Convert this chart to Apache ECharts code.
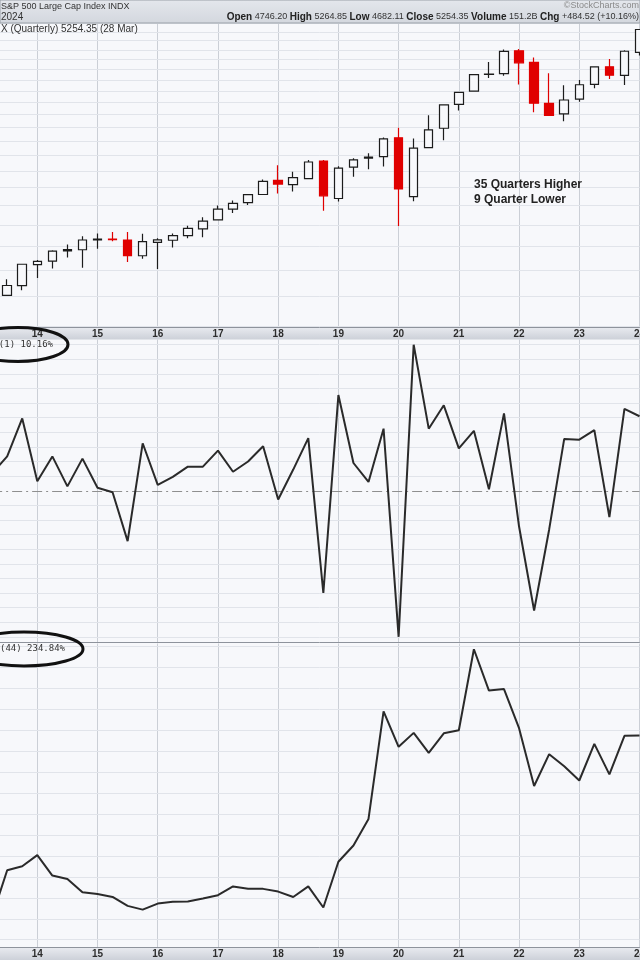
<!DOCTYPE html>
<html>
<head>
<meta charset="utf-8">
<script src="https://cdn.jsdelivr.net/npm/echarts@6/dist/echarts.min.js"></script>
<style>
html,body{margin:0;padding:0;background:#f7f8fb;}
#chart{width:640px;height:960px;}
</style>
</head>
<body>
<div id="chart"></div>
<script>
// ---- data (S&P 500, quarterly) ----
const quarters = ['2013Q2','2013Q3','2013Q4',
  '2014Q1','2014Q2','2014Q3','2014Q4','2015Q1','2015Q2','2015Q3','2015Q4',
  '2016Q1','2016Q2','2016Q3','2016Q4','2017Q1','2017Q2','2017Q3','2017Q4',
  '2018Q1','2018Q2','2018Q3','2018Q4','2019Q1','2019Q2','2019Q3','2019Q4',
  '2020Q1','2020Q2','2020Q3','2020Q4','2021Q1','2021Q2','2021Q3','2021Q4',
  '2022Q1','2022Q2','2022Q3','2022Q4','2023Q1','2023Q2','2023Q3','2023Q4','2024Q1'];
const openP = [1562.17,1609.78,1681.05,1845.86,1873.96,1962.29,1971.44,2058.90,2067.63,2058.83,1919.65,
  2038.20,2056.62,2099.34,2164.33,2251.57,2362.34,2431.39,2521.20,2683.73,2633.45,2704.95,2926.29,
  2476.96,2848.63,2964.66,2983.69,3244.67,2498.08,3105.92,3385.87,3764.61,3992.78,4300.73,4317.16,
  4778.14,4540.32,3781.00,3609.78,3853.29,4116.02,4450.48,4284.52,4746.20];
const highP = [1687.18,1729.86,1849.44,1883.97,1968.17,2019.26,2093.55,2119.59,2134.72,2132.82,2116.48,
  2075.07,2120.55,2193.81,2277.53,2400.98,2453.82,2519.44,2694.97,2872.87,2791.47,2940.91,2939.86,
  2860.31,2964.15,3027.98,3247.93,3393.52,3233.13,3588.11,3760.20,3983.87,4302.43,4545.85,4808.93,
  4818.62,4637.30,4325.28,4100.96,4195.44,4448.47,4607.07,4793.30,5264.85];
const lowP = [1536.03,1604.57,1646.47,1737.92,1814.36,1904.78,1820.66,1980.90,2048.38,1867.01,1893.70,
  1810.10,1991.68,2074.02,2083.79,2245.13,2322.25,2405.70,2520.40,2532.69,2553.80,2698.95,2346.58,
  2443.96,2728.81,2822.12,2855.94,2191.86,2447.49,3101.17,3209.45,3662.71,3992.78,4233.13,4278.94,
  4114.65,3636.87,3584.13,3491.58,3808.86,4047.50,4216.45,4103.78,4682.11];
const closeP = [1606.28,1681.55,1848.36,1872.34,1960.23,1972.29,2058.90,2067.89,2063.11,1920.03,2043.94,
  2059.74,2098.86,2168.27,2238.83,2362.72,2423.41,2519.36,2673.61,2640.87,2718.37,2913.98,2506.85,
  2834.40,2941.76,2976.74,3230.78,2584.59,3100.29,3363.00,3756.07,3972.89,4297.50,4307.54,4766.18,
  4530.41,3785.38,3585.62,3839.50,4109.31,4450.38,4288.05,4769.83,5254.35];
const roc1 = [2.4,4.7,9.9,1.3,4.7,0.6,4.4,0.4,-0.2,-6.9,6.5,0.8,1.9,3.3,3.3,5.5,2.6,4.0,6.1,-1.2,2.9,7.2,
  -14.0,13.1,3.8,1.2,8.5,-20.0,20.0,8.5,11.7,5.8,8.2,0.2,10.6,-4.9,-16.4,-5.3,7.1,7.0,8.3,-3.6,11.2,10.2];
const roc44 = [62.3,106.3,110.1,120.7,101.2,98.0,85.2,83.6,80.8,72.3,68.7,74.5,76.2,76.5,79.4,82.5,90.8,
  88.6,88.5,85.9,80.8,90.9,70.7,114.3,129.8,155.2,257.7,223.9,237.2,218.1,236.8,239.7,316.9,277.5,279.0,
  241.7,186.6,216.9,205.3,191.8,226.7,197.6,234.4,234.8];
const priceGrid = [1400,1600,1800,2000,2200,2400,2600,2800,3000,3200,3400,3600,3800,4000,4200,4400,4600,4800,5000,5200,5400];
const roc1Grid = [-20,-18,-16,-14,-12,-10,-8,-6,-4,-2,2,4,6,8,10,12,14,16,18,20];
const roc44Grid = [40,60,80,100,120,140,160,180,200,220,240,260,280,300,320];
const annotation = ['35 Quarters Higher','9 Quarter Lower'];

// ---- chart ----
const candles = quarters.map((q,i)=>[openP[i],closeP[i],lowP[i],highP[i]]);
const isQ1 = (idx, val) => String(val).slice(4) === 'Q1';
const yearLabel = (val) => String(val).slice(2,4);
const FONT = 'Liberation Sans, Arial, sans-serif';

function xAx(gi, showLabel){
  return {
    type:'category', gridIndex:gi, data:quarters, boundaryGap:false,
    axisLine:{show:true, onZero:false, lineStyle:{color:'#8e939c', width:1}},
    axisTick:{show:false},
    axisLabel:{show:showLabel, interval:isQ1, formatter:yearLabel, fontSize:10, fontWeight:'bold',
      color:'#2d2d2d', margin:2, fontFamily:FONT, hideOverlap:false},
    splitLine:{show:true, interval:isQ1, lineStyle:{color:'#cbcfd6', width:1}}
  };
}
function gridMarks(vals){
  return {silent:true, symbol:'none', z:1, animation:false, label:{show:false},
    lineStyle:{color:'#e1e4ea', width:1, type:'solid'},
    data: vals.map(v=>({yAxis:v}))};
}
const GL = -7.87, GR = 0.5;

const option = {
  animation:false,
  backgroundColor:'#f7f8fb',
  grid:[
    {left:GL, right:GR, top:23, height:304, outerBoundsMode:'none', containLabel:false},
    {left:GL, right:GR, top:339.5, height:302.5, outerBoundsMode:'none', containLabel:false},
    {left:GL, right:GR, top:643.5, height:303.8, outerBoundsMode:'none', containLabel:false}
  ],
  xAxis:[xAx(0,true), xAx(1,false), xAx(2,true)],
  yAxis:[
    {type:'log', logBase:10, gridIndex:0, min:1398, max:5409, show:false},
    {type:'value', gridIndex:1, min:-20.71, max:20.71, show:false},
    {type:'value', gridIndex:2, min:32.8, max:322.4, show:false}
  ],
  series:[
    {type:'line', xAxisIndex:0, yAxisIndex:0, data:[], z:1, markLine:gridMarks(priceGrid)},
    {type:'candlestick', xAxisIndex:0, yAxisIndex:0, data:candles, barWidth:9, z:3,
      itemStyle:{color:'#f7f8fb', color0:'#e00000', borderColor:'#1c1c1c', borderColor0:'#e00000', borderWidth:1.2}},
    {type:'line', xAxisIndex:1, yAxisIndex:1, data:roc1, symbol:'none', z:3, clip:false,
      lineStyle:{color:'#2a2a2a', width:2},
      markLine:{silent:true, symbol:'none', z:2, label:{show:false}, animation:false,
        lineStyle:{color:'#8f8f8f', width:1, type:[10,4,2,4]}, data:[{yAxis:0}]}},
    {type:'line', xAxisIndex:1, yAxisIndex:1, data:[], z:1, markLine:gridMarks(roc1Grid)},
    {type:'line', xAxisIndex:2, yAxisIndex:2, data:roc44, symbol:'none', z:3, clip:false,
      lineStyle:{color:'#2a2a2a', width:2}},
    {type:'line', xAxisIndex:2, yAxisIndex:2, data:[], z:1, markLine:gridMarks(roc44Grid)}
  ],
  graphic:[
    // header band
    {type:'rect', z:10, shape:{x:0,y:0,width:640,height:23},
      style:{fill:new echarts.graphic.LinearGradient(0,0,0,1,[{offset:0,color:'#e4e7ec'},{offset:1,color:'#d3d7de'}]),
        stroke:'#9aa0a8', lineWidth:1}},
    {type:'text', z:11, style:{x:1, y:7, text:'S&P 500 Large Cap Index INDX', font:'9px '+FONT, fill:'#333', verticalAlign:'middle'}},
    {type:'text', z:11, style:{x:1, y:17, text:'2024', font:'10px '+FONT, fill:'#333', verticalAlign:'middle'}},
    {type:'text', z:11, style:{x:639, y:6, text:'©StockCharts.com', font:'9px '+FONT, fill:'#8a8a8a', align:'right', verticalAlign:'middle'}},
    {type:'text', z:11, style:{x:639, y:17,
      text:'{b|Open} 4746.20 {b|High} 5264.85 {b|Low} 4682.11 {b|Close} 5254.35 {b|Volume} 151.2B {b|Chg} +484.52 (+10.16%)',
      font:'9px '+FONT, fill:'#333', align:'right', verticalAlign:'middle',
      rich:{b:{font:'bold 10px '+FONT, fill:'#222'}}}},
    {type:'text', z:11, style:{x:1, y:29, text:'X (Quarterly) 5254.35 (28 Mar)', font:'10px '+FONT, fill:'#333', verticalAlign:'middle'}},
    // axis strips
    {type:'rect', z:-1, shape:{x:0,y:327,width:640,height:12.5},
      style:{fill:new echarts.graphic.LinearGradient(0,0,0,1,[{offset:0,color:'#e9ebf0'},{offset:1,color:'#ccd0d8'}])}},
    {type:'rect', z:-1, shape:{x:0,y:947.3,width:640,height:13},
      style:{fill:new echarts.graphic.LinearGradient(0,0,0,1,[{offset:0,color:'#e9ebf0'},{offset:1,color:'#ccd0d8'}])}},
    // annotation
    {type:'text', z:12, style:{x:474, y:185, text:annotation[0], font:'bold 12px '+FONT, fill:'#222', verticalAlign:'middle'}},
    {type:'text', z:12, style:{x:474, y:200, text:annotation[1], font:'bold 12px '+FONT, fill:'#222', verticalAlign:'middle'}},
    // indicator labels
    {type:'text', z:12, style:{x:53, y:345, text:'ROC(1) 10.16%', font:'9px DejaVu Sans Mono, monospace', fill:'#333', align:'right', verticalAlign:'middle'}},
    {type:'text', z:12, style:{x:65, y:649, text:'ROC(44) 234.84%', font:'9px DejaVu Sans Mono, monospace', fill:'#333', align:'right', verticalAlign:'middle'}},
    {type:'ellipse', z:13, shape:{cx:18, cy:344.5, rx:50, ry:17}, style:{fill:'none', stroke:'#111', lineWidth:3}},
    {type:'ellipse', z:13, shape:{cx:24, cy:649, rx:59, ry:17}, style:{fill:'none', stroke:'#111', lineWidth:3}}
  ]
};
const chart = echarts.init(document.getElementById('chart'), null, {renderer:'canvas'});
chart.setOption(option);
</script>
</body>
</html>
